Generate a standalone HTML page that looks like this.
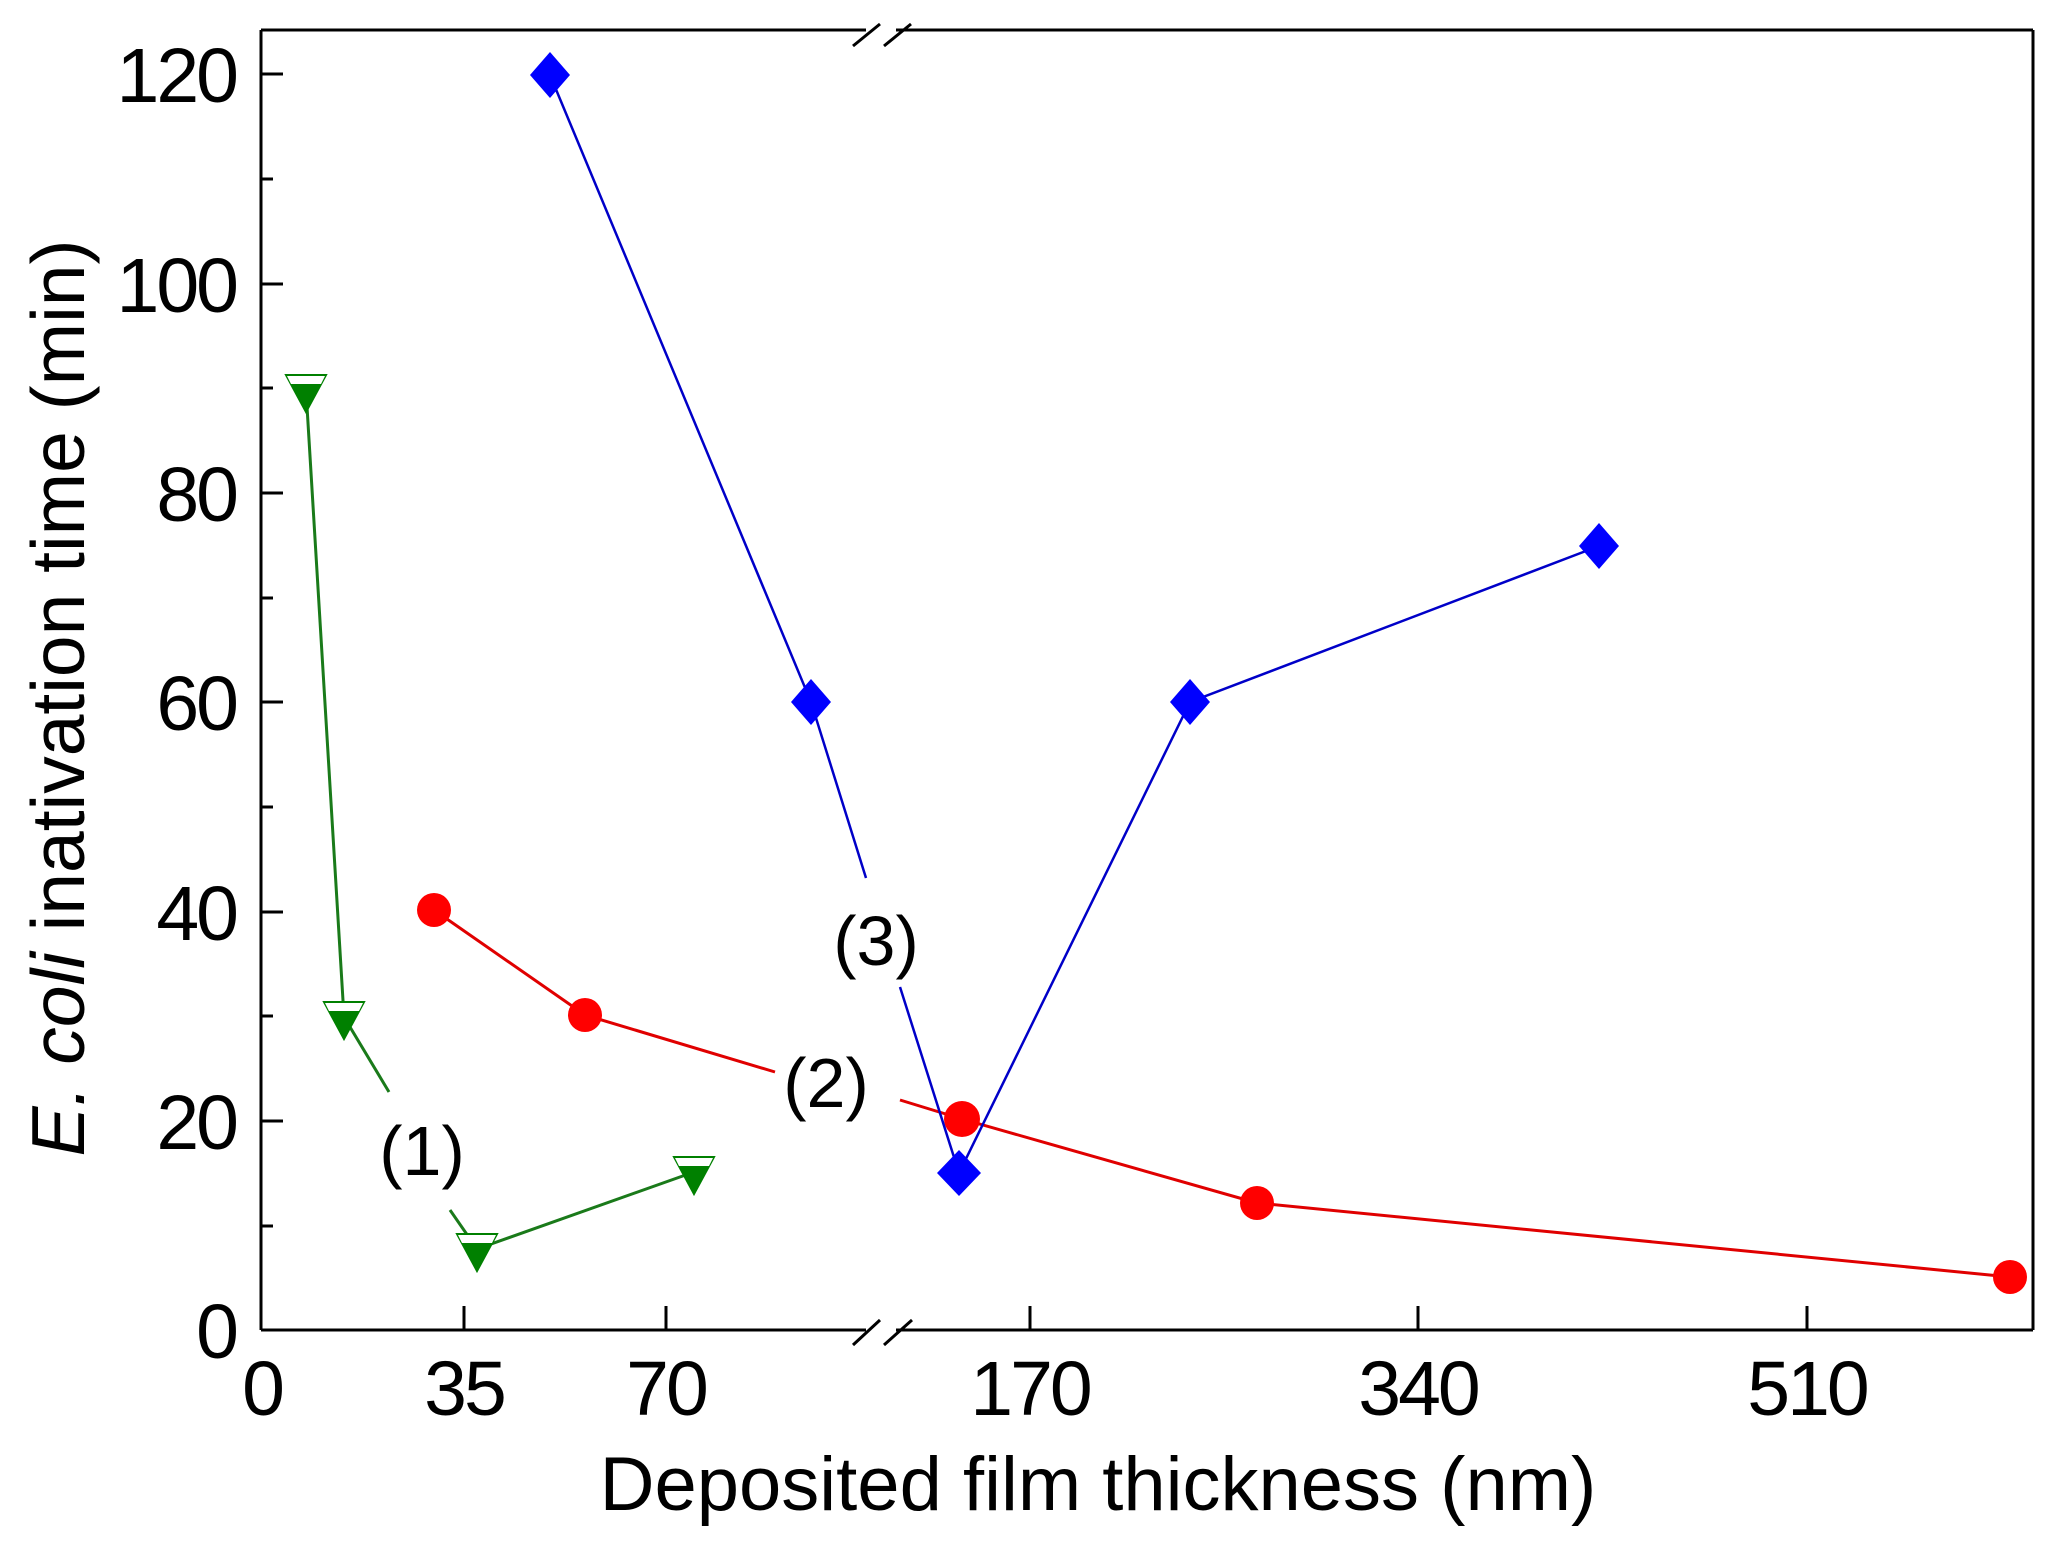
<!DOCTYPE html>
<html><head><meta charset="utf-8"><style>
html,body{margin:0;padding:0;background:#fff;}
svg{display:block;}
text{font-family:"Liberation Sans",Arial,sans-serif;fill:#000;}
</style></head><body>
<svg width="2057" height="1547" viewBox="0 0 2057 1547" xmlns="http://www.w3.org/2000/svg">
<rect width="2057" height="1547" fill="#fff"/>
<g stroke="#000" stroke-width="3" fill="none">
<line x1="261" y1="30" x2="2033" y2="30"/>
<line x1="261" y1="1330" x2="2033" y2="1330"/>
<line x1="261" y1="30" x2="261" y2="1330"/>
<line x1="2033" y1="30" x2="2033" y2="1330"/>
</g>
<rect x="866" y="20" width="30" height="20" fill="#fff"/>
<rect x="866" y="1320" width="30" height="20" fill="#fff"/>
<g stroke="#000" stroke-width="3">
<line x1="853" y1="46" x2="880" y2="24"/><line x1="884" y1="46" x2="911" y2="24"/>
<line x1="853" y1="1345" x2="880" y2="1320"/><line x1="884" y1="1345" x2="912" y2="1320"/>
</g>
<g stroke="#000" stroke-width="3">
<line x1="261" y1="1330" x2="283" y2="1330"/>
<line x1="261" y1="1121" x2="283" y2="1121"/>
<line x1="261" y1="912" x2="283" y2="912"/>
<line x1="261" y1="702" x2="283" y2="702"/>
<line x1="261" y1="493" x2="283" y2="493"/>
<line x1="261" y1="284" x2="283" y2="284"/>
<line x1="261" y1="74" x2="283" y2="74"/>
<line x1="261" y1="1226" x2="273" y2="1226"/>
<line x1="261" y1="1016" x2="273" y2="1016"/>
<line x1="261" y1="807" x2="273" y2="807"/>
<line x1="261" y1="598" x2="273" y2="598"/>
<line x1="261" y1="388" x2="273" y2="388"/>
<line x1="261" y1="179" x2="273" y2="179"/>
<line x1="464" y1="1330" x2="464" y2="1306"/>
<line x1="666" y1="1330" x2="666" y2="1306"/>
<line x1="1030" y1="1330" x2="1030" y2="1306"/>
<line x1="1418" y1="1330" x2="1418" y2="1306"/>
<line x1="1807" y1="1330" x2="1807" y2="1306"/>
</g>
<g font-size="77" text-anchor="end" letter-spacing="-3">
<text x="236" y="1358">0</text>
<text x="236" y="1149">20</text>
<text x="236" y="940">40</text>
<text x="236" y="730">60</text>
<text x="236" y="521">80</text>
<text x="236" y="312">100</text>
<text x="236" y="102">120</text>
</g>
<g font-size="77" text-anchor="middle" letter-spacing="-3">
<text x="262" y="1415">0</text>
<text x="464" y="1415">35</text>
<text x="666" y="1415">70</text>
<text x="1030" y="1415">170</text>
<text x="1418" y="1415">340</text>
<text x="1807" y="1415">510</text>
</g>
<text x="1098" y="1510" font-size="76" text-anchor="middle">Deposited film thickness (nm)</text>
<text transform="translate(84,698) rotate(-90)" font-size="75" text-anchor="middle"><tspan font-style="italic">E. coli</tspan> inativation time (min)</text>

<g stroke="#e00000" stroke-width="3" fill="none">
<polyline points="434,910 585,1015 775,1072"/>
<polyline points="900,1100 962,1119 1257,1203 2010,1277"/>
</g>
<g fill="#ff0000">
<circle cx="434" cy="910" r="17"/><circle cx="585" cy="1015" r="17"/><circle cx="962" cy="1119" r="18"/><circle cx="1257" cy="1203" r="17"/><circle cx="2010" cy="1277" r="17"/>
</g>
<g stroke="#0000c8" stroke-width="2.5" fill="none">
<polyline points="550,75 811,702 866,878"/>
<polyline points="900,987 959,1173 1190,702 1599,546"/>
</g>
<g fill="#0000ff">
<polygon points="550,52 570,75 550,98 530,75"/>
<polygon points="811,679 831,702 811,725 791,702"/>
<polygon points="959,1150 981,1173 959,1196 937,1173"/>
<polygon points="1190,679 1210,702 1190,725 1170,702"/>
<polygon points="1599,523 1619,546 1599,569 1579,546"/>
</g>
<g stroke="#1a7a1a" stroke-width="3" fill="none">
<polyline points="306,390 344,1017 389,1092"/>
<polyline points="450,1210 477,1249 694,1172"/>
</g>
<g>
<g transform="translate(306,390)"><polygon points="-20,-15 20,-15 0,22" fill="#008000" stroke="#008000" stroke-width="2"/><polygon points="-19,-14 19,-14 15,-6 -15,-6" fill="#fff"/></g>
<g transform="translate(344,1017)"><polygon points="-20,-15 20,-15 0,22" fill="#008000" stroke="#008000" stroke-width="2"/><polygon points="-19,-14 19,-14 15,-6 -15,-6" fill="#fff"/></g>
<g transform="translate(477,1249)"><polygon points="-20,-15 20,-15 0,22" fill="#008000" stroke="#008000" stroke-width="2"/><polygon points="-19,-14 19,-14 15,-6 -15,-6" fill="#fff"/></g>
<g transform="translate(694,1172)"><polygon points="-20,-15 20,-15 0,22" fill="#008000" stroke="#008000" stroke-width="2"/><polygon points="-19,-14 19,-14 15,-6 -15,-6" fill="#fff"/></g>
</g>
<g font-size="70" text-anchor="middle">
<text x="422" y="1175">(1)</text>
<text x="826" y="1107">(2)</text>
<text x="876" y="965">(3)</text>
</g>
</svg>
</body></html>
